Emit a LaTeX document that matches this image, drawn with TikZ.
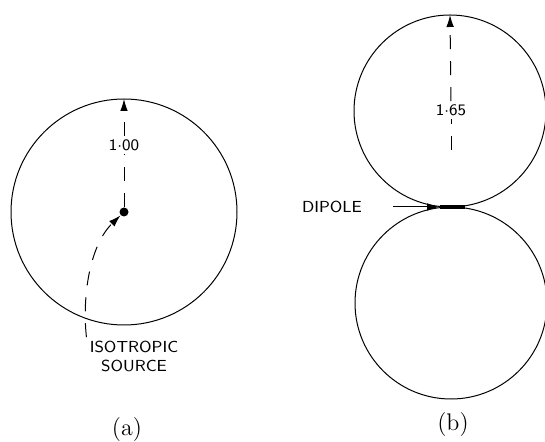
\documentclass[tikz,border=0pt]{standalone}
\usetikzlibrary{arrows.meta,positioning}
\tikzset{
  lbl/.style={font=\sffamily\footnotesize,inner sep=1.5pt},
  capt/.style={font=\large,inner sep=1pt},
  pat/.style={line width=0.5pt},
  arr/.style={-{Latex[length=6pt,width=3.8pt]},line width=0.5pt},
  dsh/.style={line width=0.5pt,dash pattern=on 7pt off 6pt}}

\begin{document}
\begin{tikzpicture}[x=0.5pt,y=-0.5pt]
\useasboundingbox (0,0) rectangle (545,442);
% (a) isotropic source
\draw[pat] (124,212) circle[radius=113];
\node[circle,fill,inner sep=0pt,minimum size=4.5pt] (src) at (124,212) {};
\coordinate (topA) at (124,99);
\node[lbl] (valA) at (124,145) {1$\cdot$00};
\draw[dsh] (src) -- (valA);
\draw[arr,dsh] (valA) -- (topA);
\node[lbl,align=center] (iso) at (134,356) {ISOTROPIC\\SOURCE};
\draw[arr,dsh] (iso.north west) .. controls (82,295) and (90,245) .. (src);
\node[capt] (capA) at (127,430) {(a)};
% (b) dipole
\draw[pat] (450,111) circle[radius=96];
\draw[pat] (451,303) circle[radius=96];
\node[fill,inner sep=0pt,minimum width=12.5pt,minimum height=2pt] (dip) at (452,207) {};
\node[lbl] (dlab) at (332,207) {DIPOLE};
\draw[arr,shorten <=14pt] (dlab) -- (dip);
\coordinate (topB) at (450,15);
\coordinate (stB) at (451,150);
\node[lbl] (valB) at (451,110) {1$\cdot$65};
\draw[dsh] (stB) -- (valB);
\draw[arr,dsh] (valB) -- (topB);
\node[capt] (capB) at (453,425) {(b)};
\end{tikzpicture}
\end{document}
